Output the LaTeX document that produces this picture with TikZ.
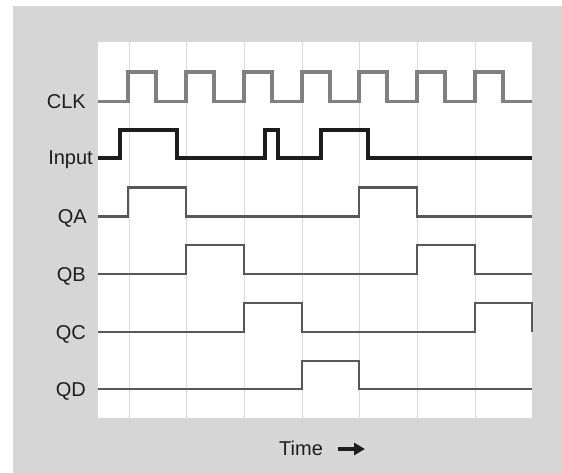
\documentclass[tikz,border=0pt]{standalone}
\usepackage{fontspec}
\setmainfont{Liberation Sans}
\usetikzlibrary{arrows.meta}
\definecolor{bggrey}{RGB}{214,214,214}
\definecolor{gridc}{RGB}{218,218,218}
\definecolor{clkc}{RGB}{128,128,128}
\definecolor{qcol}{RGB}{88,88,88}
\definecolor{inc}{RGB}{28,28,28}
\definecolor{txt}{RGB}{30,30,30}
\begin{document}
\begin{tikzpicture}[x=1pt,y=-1pt,
  lbl/.style={anchor=base east, font=\fontsize{20}{24}\selectfont, text=txt, inner sep=0pt},
  clkline/.style={draw=clkc, line width=3.3pt},
  inline/.style={draw=inc, line width=3.4pt},
  qline/.style={draw=qcol, line width=2.7pt},
  gridline/.style={draw=gridc, line width=1pt}]
\useasboundingbox (0,0) rectangle (562,473);
\fill[white] (0,0) rectangle (562,473);
\fill[bggrey] (13,6) rectangle (562,473);
\fill[white] (98,42) rectangle (532,418);
% grid
\foreach \g in {129,186,244,302,359,417,475}
  \draw[gridline] (\g,42) -- (\g,418);
% CLK
\draw[clkline] (98,101.5) foreach \r in {128,186,244,302,359,417,475} { -- (\r,101.5) -- (\r,72) -- (\r+28,72) -- (\r+28,101.5) } -- (532,101.5);
% Input
\draw[inline] (98,158) -- (120,158) -- (120,130) -- (177,130) -- (177,158) -- (265,158) -- (265,130) -- (278,130) -- (278,158) -- (321,158) -- (321,130) -- (368,130) -- (368,158) -- (532,158);
% QA
\draw[qline] (98,216.5) -- (128,216.5) -- (128,187.5) -- (186,187.5) -- (186,216.5) -- (359,216.5) -- (359,187.5) -- (417,187.5) -- (417,216.5) -- (532,216.5);
% QB
\draw[qline] (98,274) -- (186,274) -- (186,245) -- (244,245) -- (244,274) -- (417,274) -- (417,245) -- (475,245) -- (475,274) -- (532,274);
% QC
\draw[qline] (98,332) -- (244,332) -- (244,303) -- (302,303) -- (302,332) -- (475,332) -- (475,303) -- (532,303) -- (532,332);
% QD
\draw[qline] (98,389) -- (302,389) -- (302,361) -- (359,361) -- (359,389) -- (532,389);
% labels
\node[lbl] (lclk) at (86,108.5) {CLK};
\node[lbl] (lin) at (93,165) {Input};
\node[lbl] (lqa) at (87,223.5) {QA};
\node[lbl] (lqb) at (86,281) {QB};
\node[lbl] (lqc) at (86,339) {QC};
\node[lbl] (lqd) at (86,396) {QD};
\node[anchor=base west, font=\fontsize{20}{24}\selectfont, text=txt, inner sep=0pt] (time) at (279,455.5) {Time};
\coordinate (ta) at (338,449);
\coordinate (tb) at (365,449);
\draw[-{Triangle[length=11pt,width=12pt]}, line width=4pt, draw=txt, fill=txt] (ta) -- (tb);
\end{tikzpicture}
\end{document}
